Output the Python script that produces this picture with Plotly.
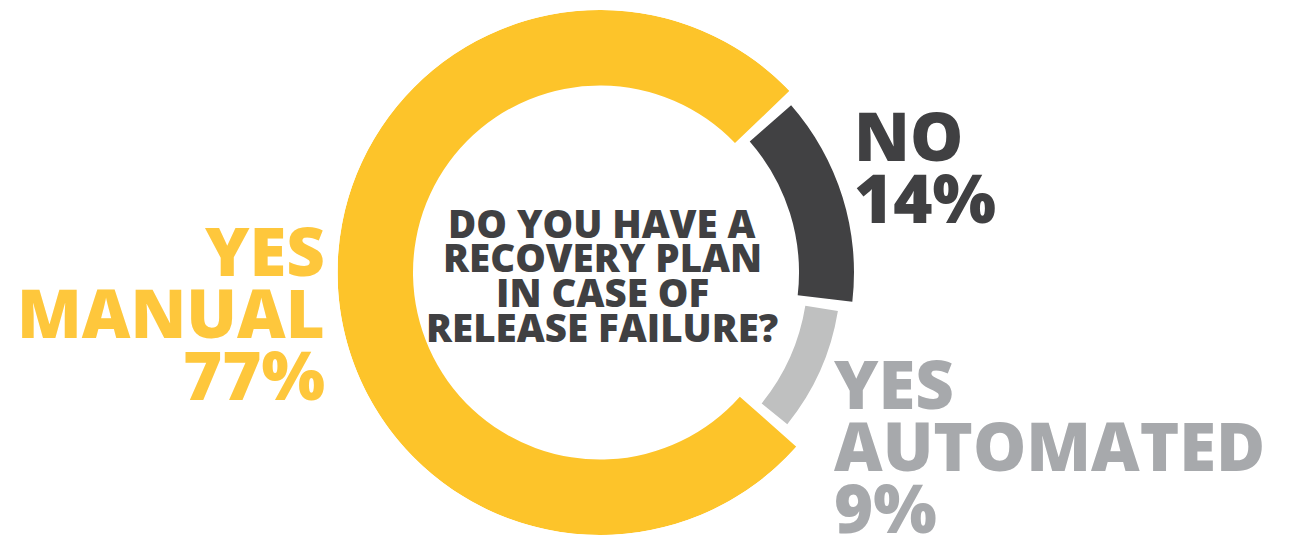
import numpy as np
import plotly.graph_objects as go

# Survey answers, clockwise from the top-right
categories = ["NO", "YES AUTOMATED", "YES MANUAL"]
shares = [14, 9, 77]  # percent of respondents
question = ["DO YOU HAVE A", "RECOVERY PLAN", "IN CASE OF", "RELEASE FAILURE?"]

W, H = 1292, 535

# ring styling per category
ring_colors = ["#414143", "#BFC0C0", "#FDC42A"]
text_colors = ["#404042", "#A7A9AC", "#FEC73C"]
inner_px = [199, 208, 187]
outer_px = [254, 241, 262.5]

START_ANGLE = 47.5   # degrees clockwise from 12 o'clock
GAP_DEG = 2.6

CX, CY, R = 600, 272.5, 262.5   # ring centre and outer radius in pixels

vals = np.array(shares, dtype=float)
cum = np.concatenate([[0], np.cumsum(vals)[:-1]])
theta_mid = START_ANGLE + (cum + vals / 2) * 3.6
widths = vals * 3.6 - GAP_DEG

fig = go.Figure()
fig.add_trace(go.Barpolar(
    theta=theta_mid,
    width=widths,
    base=inner_px,
    r=[o - i for o, i in zip(outer_px, inner_px)],
    marker=dict(color=ring_colors, line=dict(width=0)),
    hoverinfo="skip",
    text=categories,
))

FONT = "Open Sans"


def px_x(x):
    return x / W


def px_y(y):
    return 1 - y / H


def add_line(text, x, baseline, size, color, xanchor):
    fig.add_annotation(
        text=text, x=px_x(x), y=px_y(baseline - 0.40 * size),
        xref="paper", yref="paper", xanchor=xanchor, yanchor="middle",
        showarrow=False, borderpad=0,
        font=dict(family=FONT, size=size, color=color, weight=800),
    )


LABEL_SIZE = 67
LINE_STEP = 62

# category labels, each percentage taken from the shares list
label_blocks = [
    (["NO", f"{shares[0]}%"], 853, 162, "left"),
    (["YES", "AUTOMATED", f"{shares[1]}%"], 833, 410, "left"),
    (["YES", "MANUAL", f"{shares[2]}%"], 326, 277, "right"),
]
for (lines, x, base, anchor), col in zip(label_blocks, text_colors):
    for k, line in enumerate(lines):
        add_line(line, x, base + k * LINE_STEP, LABEL_SIZE, col, anchor)

# question in the middle of the ring
Q_SIZE = 38.5
for k, line in enumerate(question):
    add_line(line, 602, 238 + k * 34.7, Q_SIZE, "#404042", "center")

fig.update_layout(
    width=W, height=H,
    margin=dict(l=0, r=0, t=0, b=0),
    paper_bgcolor="white",
    plot_bgcolor="white",
    showlegend=False,
    polar=dict(
        domain=dict(x=[(CX - R) / W, (CX + R) / W],
                    y=[(H - CY - R) / H, (H - CY + R) / H]),
        bgcolor="white",
        hole=0,
        radialaxis=dict(range=[0, R], visible=False),
        angularaxis=dict(rotation=90, direction="clockwise", visible=False),
    ),
)

fig.write_html("out.html")
